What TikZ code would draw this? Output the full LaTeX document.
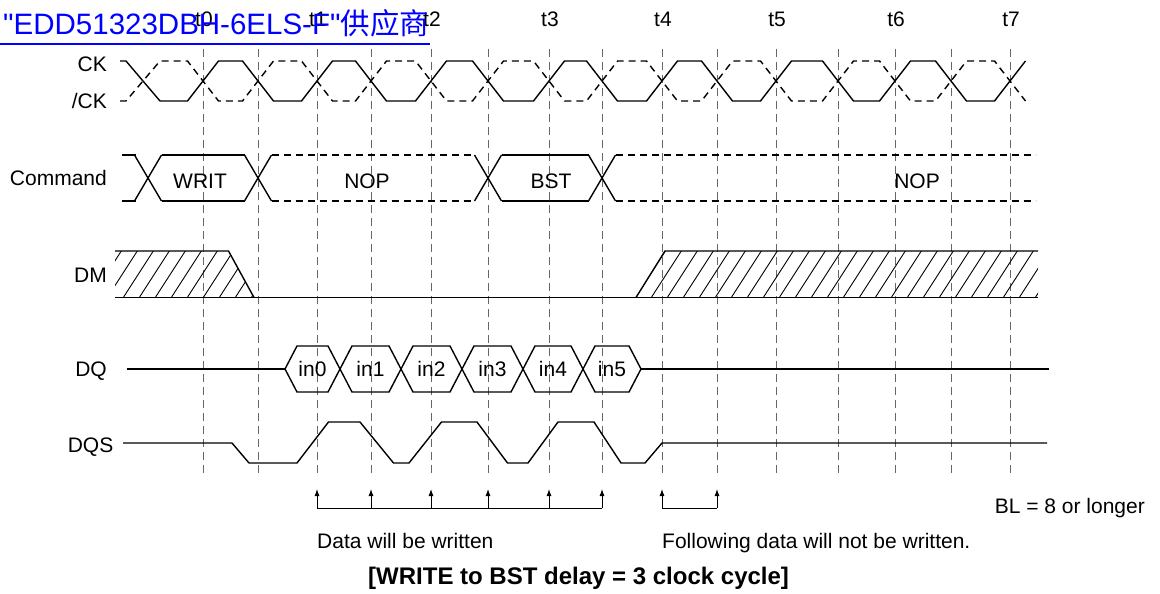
\documentclass[tikz,border=0pt]{standalone}
\usepackage{fontspec}
\setmainfont{Liberation Sans}
\newfontfamily\vendorfont{Liberation Sans}
\newfontfamily\cjk{Noto Sans CJK SC}
\usetikzlibrary{arrows.meta}
\usetikzlibrary{math}

\begin{document}
\begin{tikzpicture}[x=1pt,y=-1pt,
  wave/.style={line width=1.4pt},
  wavedash/.style={wave,dash pattern=on 7pt off 5pt},
  gridline/.style={line width=1pt,black!60,dash pattern=on 8pt off 5pt},
  hatch/.style={line width=0.9pt},
  strobe/.style={line width=0.9pt,-{Latex[length=7pt,width=5pt]}},
  lbl/.style={inner sep=0pt,font=\fontsize{21}{25}\selectfont}]

  \tikzmath{
    \ckhigh  = 61;  \cklow  = 101; \ckedge = 15.5; % clock levels, half edge
    \cmdtop  = 155; \cmdbot = 201; \cmdmid = 178; \cmdedge = 13.5; % command bus
    \dmtop   = 251; \dmbot  = 297.5;               % data mask
    \dqmid   = 369; \dqtop  = 346; \dqbot = 392; \dqedge = 12; % data bus
    \dqshigh = 422; \dqsmid = 443; \dqslow = 463;  % data strobe
  }

  \useasboundingbox (0,0) rectangle (1160,594);

  % clock grid
  \foreach \gx in {203,258,317,371,431,488,549,602,662,717,776,838,895,951,1010}
    \draw[gridline] (\gx,49) -- (\gx,476);
  \foreach \gx/\tn in {203/0,317/1,431/2,549/3,662/4,776/5,895/6,1010/7}
    \node[lbl,anchor=base] (t\tn) at (\gx+1,27) {t\tn};

  % signal names
  \node[lbl,anchor=base east] (ck)    at (107,72)    {CK};
  \node[lbl,anchor=base east] (ckbar) at (107,108)   {/CK};
  \node[lbl,anchor=base east] (cmd)   at (107,185.5) {Command};
  \node[lbl,anchor=base east] (dm)    at (107,282)   {DM};
  \node[lbl,anchor=base east] (dq)    at (107,376)   {DQ};
  \node[lbl,anchor=base east] (dqs)   at (113.5,452) {DQS};

  % CK and /CK
  \draw[wave] (120,\ckhigh) -- (126,\ckhigh) -- (160,\cklow)
    \foreach \r/\f in {203/258,317/371,431/488,549/602,662/717,776/838,895/951}
      { -- (\r-\ckedge,\cklow) -- (\r+\ckedge,\ckhigh) -- (\f-\ckedge,\ckhigh) -- (\f+\ckedge,\cklow) }
    -- (1010-\ckedge,\cklow) -- (1010+\ckedge,\ckhigh);
  \draw[wavedash] (120,\cklow) -- (126,\cklow) -- (160,\ckhigh)
    \foreach \r/\f in {203/258,317/371,431/488,549/602,662/717,776/838,895/951}
      { -- (\r-\ckedge,\ckhigh) -- (\r+\ckedge,\cklow) -- (\f-\ckedge,\cklow) -- (\f+\ckedge,\ckhigh) }
    -- (1010-\ckedge,\ckhigh) -- (1010+\ckedge,\cklow);

  % Command bus
  \foreach \xc in {148,258,488,602} {
    \draw[wave] (\xc-\cmdedge,\cmdtop) -- (\xc+\cmdedge,\cmdbot);
    \draw[wave] (\xc-\cmdedge,\cmdbot) -- (\xc+\cmdedge,\cmdtop);
  }
  \foreach \a/\b in {122/148,148/258,488/602} {
    \draw[wave] (\a+\cmdedge,\cmdtop) -- (\b-\cmdedge,\cmdtop);
    \draw[wave] (\a+\cmdedge,\cmdbot) -- (\b-\cmdedge,\cmdbot);
  }
  \draw[wave] (122,\cmdtop) -- (148-\cmdedge,\cmdtop);
  \draw[wave] (122,\cmdbot) -- (148-\cmdedge,\cmdbot);
  \foreach \a/\b in {258/488,602/1049} {
    \draw[wavedash] (\a+\cmdedge,\cmdtop) -- (\b-\cmdedge,\cmdtop);
    \draw[wavedash] (\a+\cmdedge,\cmdbot) -- (\b-\cmdedge,\cmdbot);
  }
  \node[lbl,anchor=base] (writ) at (200,188) {WRIT};
  \node[lbl,anchor=base] (nop)  at (367,188) {NOP};
  \node[lbl,anchor=base] (bst)  at (551,188) {BST};
  \node[lbl,anchor=base] (nop2) at (917,188) {NOP};

  % DM, hatched while masked
  \begin{scope}
    \clip (115,\dmtop) -- (228.5,\dmtop) -- (254,\dmbot) -- (115,\dmbot) -- cycle
          (636,\dmbot) -- (665,\dmtop) -- (1038,\dmtop) -- (1038,\dmbot) -- cycle;
    \foreach \hx in {91.3,107.3,...,1040}
      \draw[hatch] (\hx,\dmbot) -- ++(30,-46.5);
  \end{scope}
  \draw[wave] (115,\dmtop) -- (228.5,\dmtop) -- (254,\dmbot);
  \draw[wave] (115,\dmbot) -- (1038,\dmbot);
  \draw[wave] (636,\dmbot) -- (665,\dmtop) -- (1038,\dmtop);

  % DQ
  \draw[wave] (126.7,\dqmid) -- (285,\dqmid);
  \foreach \a/\b/\txt in {285/340/in0,340/401/in1,401/462/in2,462/523/in3,523/583/in4,583/641/in5} {
    \draw[wave] (\a,\dqmid) -- (\a+\dqedge,\dqtop) -- (\b-\dqedge,\dqtop) -- (\b,\dqmid)
      -- (\b-\dqedge,\dqbot) -- (\a+\dqedge,\dqbot) -- cycle;
    \node[lbl] (\txt) at ({(\a+\b)/2},\dqmid) {\txt};
  }
  \draw[wave] (641,\dqmid) -- (1049,\dqmid);

  % DQS
  \draw[wave] (123,\dqsmid) -- (232,\dqsmid) -- (249,\dqslow) -- (297,\dqslow)
    -- (328.5,\dqshigh) -- (360,\dqshigh) -- (393.5,\dqslow) -- (409,\dqslow)
    -- (441.5,\dqshigh) -- (477,\dqshigh) -- (507.5,\dqslow) -- (528,\dqslow)
    -- (558,\dqshigh) -- (594,\dqshigh) -- (621,\dqslow) -- (645,\dqslow)
    -- (662,\dqsmid) -- (1047,\dqsmid);

  % write strobes
  \foreach \ax in {317,371,431,488,549,602,662,717}
    \draw[strobe] (\ax,508) -- (\ax,489);
  \draw[line width=0.9pt] (317,508) -- (602,508);
  \draw[line width=0.9pt] (662,508) -- (717,508);

  \node[lbl,anchor=base west] (written)    at (317,548)  {Data will be written};
  \node[lbl,anchor=base west] (notwritten) at (662,548)  {Following data will not be written.};
  \node[lbl,anchor=base east] (burst)      at (1145,513) {BL = 8 or longer};
  \node[inner sep=0pt,anchor=base west,font=\bfseries\fontsize{24}{28}\selectfont]
    (delay) at (368,584) {[WRITE to BST delay = 3 clock cycle]};

  % vendor line
  \node[inner sep=0pt,anchor=base west,text=blue,font=\vendorfont\fontsize{29.5}{32}\selectfont]
    (vendor) at (3,35) {"EDD51323DBH-6ELS-F"{\cjk 供应商}};
  \draw[blue,line width=2pt] (0,44) -- (430,44);

\end{tikzpicture}
\end{document}
